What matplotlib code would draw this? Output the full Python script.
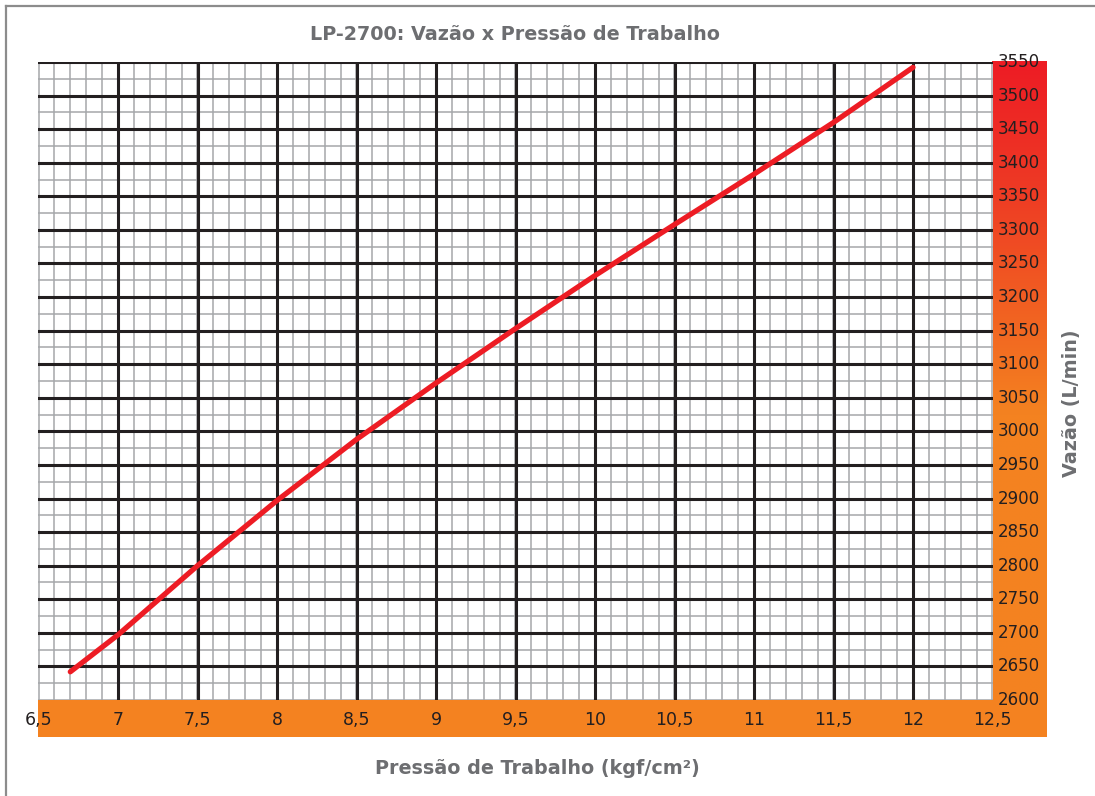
import numpy as np
import matplotlib.pyplot as plt
from matplotlib.colors import LinearSegmentedColormap
from matplotlib.lines import Line2D

# curve
pressao = [6.7, 7.0, 7.5, 8.0, 8.5, 9.0, 9.5, 10.0, 10.5, 11.0, 11.5, 12.0]
vazao = [2642, 2697, 2800, 2897, 2988, 3072, 3153, 3232, 3308, 3383, 3460, 3542]

x_ticks = [6.5, 7, 7.5, 8, 8.5, 9, 9.5, 10, 10.5, 11, 11.5, 12, 12.5]
x_labels = ["6,5", "7", "7,5", "8", "8,5", "9", "9,5", "10", "10,5", "11", "11,5", "12", "12,5"]
y_ticks = list(range(2600, 3551, 50))

RED = "#ed1c24"
ORANGE = "#f48220"
DARK = "#231f20"
GRAY = "#a5a7aa"
TXT = "#6d6e71"

W, H = 1095, 796
fig = plt.figure(figsize=(W / 100, H / 100), dpi=100)


def fx(px):
    return px / W


def fy(py):
    return 1 - py / H


# outer frame (cropped on right/bottom)
fig.add_artist(Line2D([fx(6), 1], [fy(6), fy(6)], color="#8c8c8c", lw=1.6))
fig.add_artist(Line2D([fx(6), fx(6)], [fy(6), 0], color="#8c8c8c", lw=1.6))

# orange bands: bottom and gradient right
band = fig.add_axes([fx(38), fy(737), fx(1047) - fx(38), fy(700) - fy(737)])
band.set_facecolor(ORANGE)
band.set_xticks([])
band.set_yticks([])
for s in band.spines.values():
    s.set_visible(False)

cmap = LinearSegmentedColormap.from_list("rg", [(0, ORANGE), (0.45, ORANGE), (0.8, "#ee3a24"), (1, RED)])
side = fig.add_axes([fx(992), fy(701), fx(1047) - fx(992), fy(61) - fy(701)])
side.imshow(np.linspace(0, 1, 256).reshape(-1, 1), cmap=cmap, aspect="auto", origin="lower",
            extent=[0, 1, 0, 1])
side.set_axis_off()

ax = fig.add_axes([fx(38.5), fy(700), fx(992.5) - fx(38.5), fy(62) - fy(700)])
ax.set_xlim(6.5, 12.5)
ax.set_ylim(2600, 3550)
ax.set_facecolor("white")

# minor grid
for xv in np.arange(6.5, 12.51, 0.1):
    ax.axvline(xv, color=GRAY, lw=1.1, zorder=1)
for yv in np.arange(2600, 3551, 25):
    ax.axhline(yv, color=GRAY, lw=1.1, zorder=1)
# major grid
for xv in x_ticks[1:-1]:
    ax.axvline(xv, color=DARK, lw=2.2, zorder=2)
for yv in y_ticks[1:]:
    ax.axhline(yv, color=DARK, lw=2.2, zorder=2)

ax.plot(pressao, vazao, color=RED, lw=3.8, solid_capstyle="round", solid_joinstyle="round", zorder=3)

ax.set_xticks([])
ax.set_yticks([])
for s in ax.spines.values():
    s.set_visible(False)

for xv, lab in zip(x_ticks, x_labels):
    ax.text(xv, -0.032, lab, transform=ax.get_xaxis_transform(), ha="center", va="center",
            fontsize=12.5, color=DARK, clip_on=False)
for yv in y_ticks:
    ax.text(1.0055, yv, str(yv), transform=ax.get_yaxis_transform(), ha="left", va="center",
            fontsize=12, color=DARK, clip_on=False)

fig.text(fx(515), fy(35), "LP-2700: Vazão x Pressão de Trabalho", ha="center", va="center",
         fontsize=13.8, fontweight="bold", color=TXT)
fig.text(fx(537), fy(768), "Pressão de Trabalho (kgf/cm²)", ha="center", va="center",
         fontsize=13.8, fontweight="bold", color=TXT)
fig.text(fx(1072), fy(403), "Vazão (L/min)", ha="center", va="center", rotation=90,
         fontsize=13.8, fontweight="bold", color=TXT)

fig.savefig("out.png", dpi=100)
